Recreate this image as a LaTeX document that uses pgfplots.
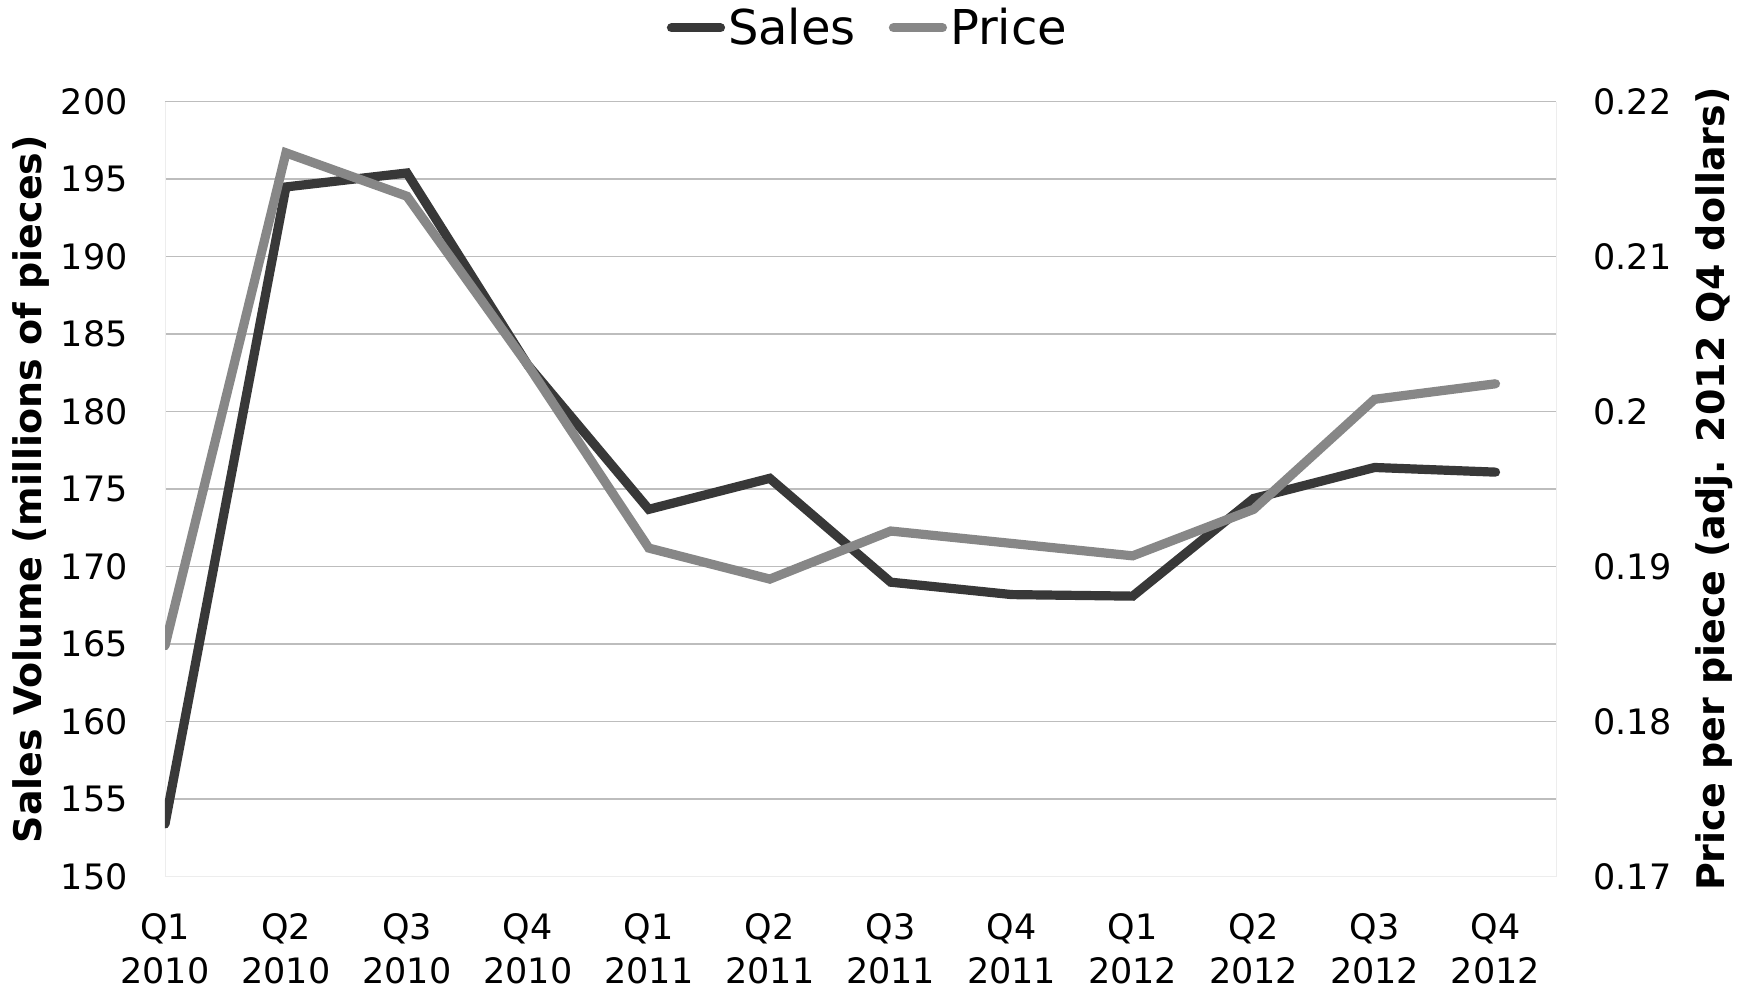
\documentclass[border=0pt]{standalone}
\usepackage{fontspec}
\setmainfont{DejaVu Sans}
\usepackage{pgfplots}
\usepackage{pgfplotstable}
\pgfplotsset{compat=1.18}

\definecolor{salescol}{HTML}{383838}
\definecolor{pricecol}{HTML}{878787}
\definecolor{gridcol}{HTML}{BDBDBD}

% quarterly sales volume (millions of pieces) and price per piece
\pgfplotstableread{
q  sales  price
0  153.4  0.1849
1  194.5  0.2167
2  195.4  0.2139
3  183.0  0.2030
4  173.7  0.1912
5  175.7  0.1892
6  169.0  0.1923
7  168.2  0.1915
8  168.1  0.1907
9  174.4  0.1937
10 176.4  0.2008
11 176.1  0.2018
}\datatable

\pgfplotsset{
  common/.style={
    scale only axis, width=695.5pt, height=387.5pt,
    xmin=0, xmax=11.5,
    major tick length=0pt,
    axis line style={black!7},
    /pgf/number format/assume math mode=true,
    tick label style={font=\fontsize{17.5}{22}\selectfont},
  },
}

\begin{document}
\begin{tikzpicture}
\begin{axis}[
  common, name=main,
  ymin=150, ymax=200,
  axis y line*=left, axis x line*=bottom,
  ytick={150,155,...,200},
  xtick={0,...,11},
  xticklabels={{Q1\\2010},{Q2\\2010},{Q3\\2010},{Q4\\2010},
               {Q1\\2011},{Q2\\2011},{Q3\\2011},{Q4\\2011},
               {Q1\\2012},{Q2\\2012},{Q3\\2012},{Q4\\2012}},
  xticklabel style={align=center, inner sep=0pt, yshift=-18pt,
                    font=\fontsize{17.5}{22}\selectfont},
  yticklabel style={inner sep=0pt, xshift=-18.5pt},
  ymajorgrids, grid style={gridcol, line width=0.8pt},
  ylabel={Sales Volume (millions of pieces)},
  every axis y label/.style={at={(axis description cs:-0.0963,0.5)},
                             rotate=90, anchor=center,
                             font=\bfseries\fontsize{19}{22}\selectfont},
]
\addplot[salescol, line width=4.6pt, line cap=round, line join=miter]
  table[x=q, y=sales] {\datatable};
\end{axis}

\begin{axis}[
  common,
  ymin=0.17, ymax=0.22,
  axis y line*=right, axis x line=none,
  ytick={0.17,0.18,0.19,0.2,0.21,0.22},
  yticklabels={0.17,0.18,0.19,0.2,0.21,0.22},
  yticklabel style={inner sep=0pt, xshift=18.5pt},
  ylabel={Price per piece (adj. 2012 Q4 dollars)},
  every axis y label/.style={at={(axis description cs:1.1136,0.5)},
                             rotate=90, anchor=center,
                             font=\bfseries\fontsize{19}{22}\selectfont},
  legend columns=2,
  legend style={at={(axis description cs:0.5,1)}, anchor=center,
                yshift=36.9pt, xshift=4pt, draw=none, fill=none,
                font=\fontsize{24}{28}\selectfont,
                nodes={inner sep=1.5pt},
                /tikz/every even column/.append style={column sep=15pt}},
  legend image code/.code={\draw[#1, line cap=round] (0pt,0pt) -- (24.5pt,0pt);},
]
\addlegendimage{salescol, line width=4.6pt}
\addlegendentry{Sales}
\addplot[pricecol, line width=4.6pt, line cap=round, line join=miter]
  table[x=q, y=price] {\datatable};
\addlegendentry{Price}
\end{axis}

\pgfresetboundingbox
\path[use as bounding box]
  ([xshift=-82.5pt, yshift=-57.65pt]main.south west)
  rectangle ([xshift=94.5pt, yshift=50.85pt]main.north east);
\end{tikzpicture}
\end{document}
